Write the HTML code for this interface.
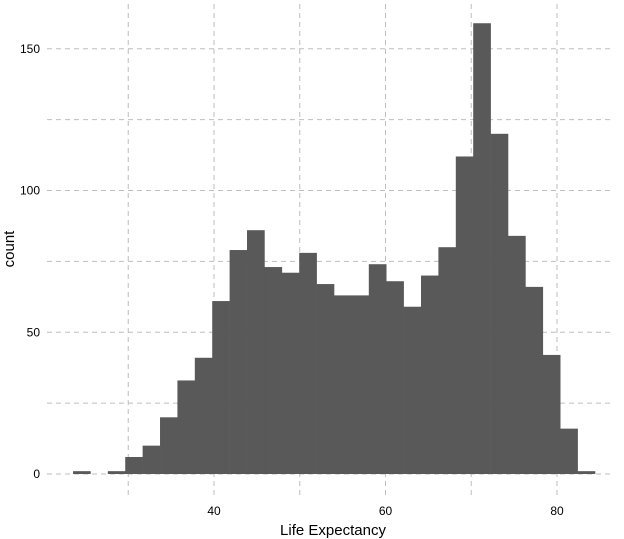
<!DOCTYPE html>
<html><head><meta charset="utf-8"><style>
body{margin:0;background:#fff;}
svg{display:block;font-family:"Liberation Sans",sans-serif;}
</style></head><body>
<svg width="624" height="539">
<g id="grid"></g>
<g id="bars"></g>
<g id="axes"></g>
<text x="333" y="535" text-anchor="middle" font-size="15" fill="#000">Life Expectancy</text>
<text transform="translate(14,249) rotate(-90)" text-anchor="middle" font-size="15" fill="#000">count</text>
</svg>
<script>
const binStart = 23.56;
const binWidth = 2.029;
const counts = [1,0,1,6,10,20,33,41,61,79,86,73,71,78,67,63,63,74,68,59,70,80,112,159,120,84,66,42,16,1];
const xTicks = [40,60,80];
const xMinor = [30,50,70];
const yTicks = [0,50,100,150];
const yMinor = [25,75,125];
const X = v => 214 + (v-40)*8.575;
const Y = v => 474 - v*2.835;
const NS = "http://www.w3.org/2000/svg";
function mk(parent, tag, attrs){const e=document.createElementNS(NS,tag);for(const k in attrs)e.setAttribute(k,attrs[k]);document.getElementById(parent).appendChild(e);return e;}
const dash={stroke:"#bebebe","stroke-width":1,"stroke-dasharray":"5,4",fill:"none"};
xTicks.concat(xMinor).forEach(v=>{
  const l=mk("grid","line",Object.assign({x1:X(v),x2:X(v),y1:4,y2:496},dash));
  
  
});
yTicks.concat(yMinor).forEach(v=>{
  const l=mk("grid","line",Object.assign({x1:47,x2:612,y1:Y(v),y2:Y(v)},dash));
  
  
});
counts.forEach((c,i)=>{
  if(c<=0)return;
  const x0=X(binStart+i*binWidth), x1=X(binStart+(i+1)*binWidth);
  const r=mk("bars","rect",{x:x0,y:Y(c),width:x1-x0+0.3,height:Y(0)-Y(c),fill:"#595959"});
  
  
});
xTicks.forEach(v=>{
  const t=mk("axes","text",{x:X(v),y:515,"text-anchor":"middle","font-size":12,fill:"#000"});
  t.textContent=v;
  
  
});
yTicks.forEach(v=>{
  const t=mk("axes","text",{x:40,y:Y(v)+4,"text-anchor":"end","font-size":12,fill:"#000"});
  t.textContent=v;
  
  
});
</script>
</body></html>
